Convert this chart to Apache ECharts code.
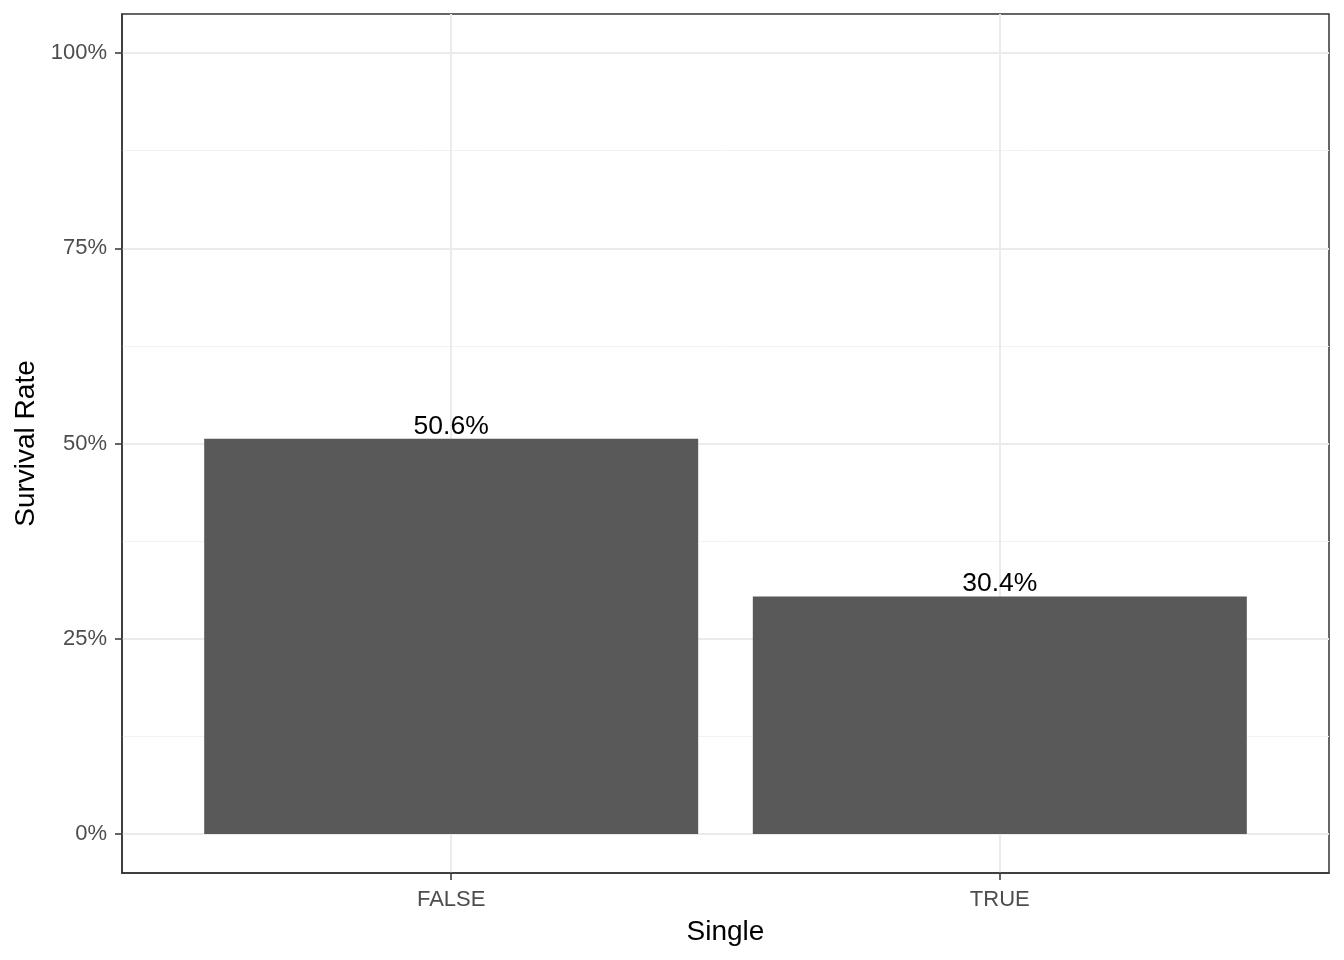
<!DOCTYPE html>
<html lang="en">
<head>
    <meta charset="UTF-8">
    <title>Survival Rate by Single</title>
    <script src="https://cdn.jsdelivr.net/npm/echarts@6/dist/echarts.min.js"></script>
    <style>
        html, body { margin: 0; padding: 0; background: #fff; }
        #main { width: 1344px; height: 960px; }
    </style>
</head>
<body>
<div id="main"></div>
<script>
// categories sit at x = 1, 2 (like ggplot's discrete scale)
var categories = ['FALSE', 'TRUE'];
var categoryPos = [1, 2];
var survivalRate = [0.506, 0.304];
var yTicks = [0, 0.25, 0.5, 0.75, 1];
var yMinorTicks = [0.125, 0.375, 0.625, 0.875];

var font = "'Liberation Sans', Arial, sans-serif";
var barData = categoryPos.map(function (p, i) { return [p, survivalRate[i]]; });

var myChart = echarts.init(document.getElementById('main'));

var option = {
    backgroundColor: '#ffffff',
    animation: false,
    grid: {
        left: 122, right: 15, top: 14, bottom: 87,
        show: true,
        borderColor: '#333333',
        borderWidth: 1.5,
        backgroundColor: 'transparent'
    },
    xAxis: {
        type: 'value',
        min: 0.4,
        max: 2.6,
        name: 'Single',
        nameLocation: 'middle',
        nameGap: 45,
        nameTextStyle: { color: '#000', fontSize: 28, fontFamily: font },
        axisLine: { show: true, onZero: false, lineStyle: { color: '#333333', width: 1.5 } },
        axisTick: { show: true, length: 7, customValues: categoryPos, lineStyle: { color: '#333333', width: 1.5 } },
        axisLabel: {
            customValues: categoryPos,
            margin: 16,
            color: '#4D4D4D',
            fontSize: 22,
            fontFamily: font,
            formatter: function (v) {
                var i = categoryPos.indexOf(Math.round(v));
                return i >= 0 ? categories[i] : '';
            }
        },
        splitLine: { show: true, lineStyle: { color: '#EBEBEB', width: 2 } }
    },
    yAxis: [{
        type: 'value',
        position: 'left',
        min: -0.05,
        max: 1.05,
        name: 'Survival Rate',
        nameLocation: 'middle',
        nameGap: 81,
        nameTextStyle: { color: '#000', fontSize: 28, fontFamily: font },
        axisLine: { show: true, onZero: false, lineStyle: { color: '#333333', width: 1.5 } },
        axisTick: { show: true, length: 7, customValues: yTicks, lineStyle: { color: '#333333', width: 1.5 } },
        axisLabel: {
            customValues: yTicks,
            margin: 15,
            padding: [4, 0, 0, 0],
            color: '#4D4D4D',
            fontSize: 22,
            fontFamily: font,
            formatter: function (v) { return Math.round(v * 100) + '%'; }
        },
        splitLine: { show: true, lineStyle: { color: '#EBEBEB', width: 2 } }
    }, {
        // minor grid lines only
        type: 'value',
        position: 'left',
        min: -0.05,
        max: 1.05,
        axisLine: { show: false },
        axisTick: { show: false, customValues: yMinorTicks },
        axisLabel: { show: false, customValues: yMinorTicks },
        splitLine: { show: true, lineStyle: { color: '#F2F2F2', width: 1 } }
    }],
    series: [{
        type: 'bar',
        data: barData,
        barWidth: 494,
        itemStyle: { color: '#595959' },
        label: {
            show: true,
            position: 'top',
            distance: -1,
            color: '#000',
            fontSize: 26.5,
            fontFamily: font,
            formatter: function (p) { return (p.value[1] * 100).toFixed(1) + '%'; }
        }
    }]
};

myChart.setOption(option);
</script>
</body>
</html>
